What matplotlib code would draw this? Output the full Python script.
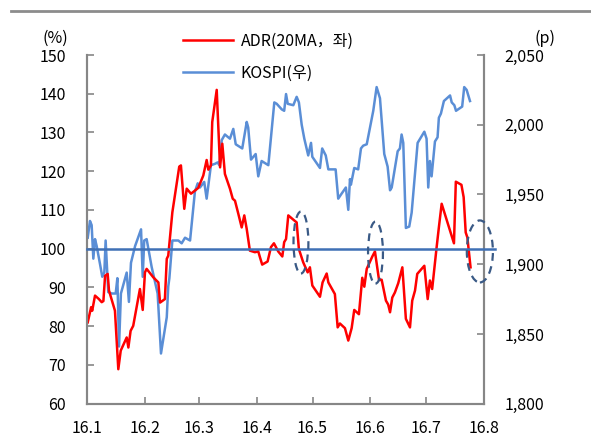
import matplotlib
matplotlib.use("Agg")
import matplotlib.pyplot as plt
import matplotlib.dates as mdates
import matplotlib.ticker as mticker
from matplotlib.patches import Ellipse
from matplotlib.lines import Line2D
import pandas as pd

plt.rcParams["font.family"] = ["Noto Sans CJK KR", "DejaVu Sans"]

# ADR 20MA (%, left axis), x = days since 2016-01-01
adr_days = [0.4, 2.2, 2.8, 4.3, 6.4, 7.9, 8.8, 9.7, 11.1, 11.8,
            15.0, 16.8, 18.1, 21.3, 22.2, 23.4, 24.8, 28.4, 29.9, 31.1,
            32.0, 35.6, 38.3, 39.2, 41.8, 42.8, 43.6, 45.8, 49.5, 50.4,
            52.2, 53.5, 55.8, 57.9, 59.7, 62.4, 64.2, 65.1, 66.5, 67.2,
            69.6, 71.4, 72.6, 74.0, 76.7, 78.2, 79.4, 81.2, 83.0, 84.4,
            85.7, 87.4, 90.1, 91.9, 92.8, 94.0, 96.9, 98.7, 100.3, 102.6,
            104.8, 105.8, 106.8, 108.0, 111.2, 112.5, 113.7, 116.0, 118.4, 119.6,
            120.9, 125.0, 126.4, 128.6, 129.5, 133.0, 134.5, 135.7, 138.4, 140.2,
            142.0, 143.4, 145.9, 147.7, 148.8, 150.1, 153.1, 154.5, 156.7, 158.1,
            160.4, 161.6, 162.6, 163.8, 165.2, 167.0, 169.2, 169.7, 171.1, 173.3,
            174.5, 176.0, 177.2, 181.0, 182.8, 184.0, 185.2, 187.6, 188.8, 190.3,
            196.9, 197.9, 200.9, 202.1, 203.2, 204.1, 205.8]
adr_values = [81.0, 84.9, 84.0, 87.9, 87.0, 86.2, 86.5, 93.0, 93.5, 89.2,
              84.0, 68.9, 73.7, 77.1, 74.5, 78.8, 80.1, 89.6, 84.2, 93.9,
              94.8, 92.6, 91.3, 86.1, 87.0, 97.4, 98.2, 109.4, 121.2, 121.5,
              110.3, 115.5, 114.2, 115.0, 115.7, 118.9, 122.9, 120.4, 121.5, 132.7,
              141.0, 121.0, 127.1, 119.3, 115.5, 112.9, 112.4, 109.0, 105.5, 108.6,
              105.1, 99.5, 99.1, 99.3, 97.8, 95.9, 96.7, 100.4, 101.4, 99.3,
              98.0, 101.7, 102.5, 108.6, 107.3, 106.8, 99.9, 96.5, 93.9, 95.2,
              90.5, 87.6, 91.3, 93.6, 91.3, 88.3, 79.7, 80.7, 79.5, 76.3,
              79.5, 84.2, 83.1, 92.5, 90.2, 94.8, 98.0, 99.3, 91.9, 92.0,
              86.6, 85.6, 83.6, 87.4, 88.7, 91.1, 95.2, 91.8, 81.9, 79.7,
              86.6, 89.2, 93.5, 95.6, 87.0, 91.8, 89.6, 100.4, 105.5, 111.6,
              101.4, 117.3, 116.5, 113.3, 104.2, 102.9, 95.2]

# KOSPI (p, right axis)
kospi_days = [0.4, 1.6, 2.5, 3.4, 4.3, 5.2, 7.0, 8.2, 9.3, 10.0,
              11.4, 13.3, 15.4, 16.3, 17.2, 18.2, 21.3, 22.5, 23.6, 25.8,
              29.0, 29.9, 30.7, 32.0, 34.7, 37.9, 39.7, 42.8, 43.6, 44.2,
              45.8, 49.0, 50.8, 52.6, 55.3, 57.9, 59.4, 60.6, 62.9, 64.2,
              66.5, 68.7, 70.1, 71.0, 72.3, 74.0, 76.7, 78.5, 79.8, 83.3,
              85.7, 86.5, 88.0, 90.5, 91.9, 93.7, 97.3, 100.5, 101.8, 104.5,
              105.8, 106.8, 107.7, 110.7, 112.5, 113.7, 115.2, 116.6, 118.7, 120.2,
              120.9, 125.0, 126.2, 128.1, 129.5, 133.4, 134.8, 136.3, 138.9, 140.2,
              141.1, 141.6, 143.4, 145.5, 147.0, 148.2, 150.1, 153.6, 155.4, 157.2,
              159.5, 161.3, 162.6, 163.5, 166.7, 167.9, 168.8, 169.7, 171.1, 172.9,
              174.2, 177.4, 181.0, 182.2, 183.1, 184.0, 184.9, 186.7, 188.1, 188.8,
              189.9, 191.5, 194.8, 195.7, 197.1, 198.0, 201.3, 202.4, 203.7, 205.5]
kospi_values = [1919, 1931, 1928, 1904, 1918, 1913, 1900, 1891, 1894, 1917,
                1880, 1879, 1879, 1890, 1841, 1879, 1894, 1873, 1901, 1913,
                1925, 1891, 1917, 1918, 1898, 1879, 1836, 1862, 1884, 1890,
                1917, 1917, 1915, 1919, 1917, 1952, 1958, 1955, 1959, 1947,
                1971, 1972, 1973, 1971, 1989, 1993, 1990, 1997, 1986, 1983,
                2002, 1998, 1975, 1979, 1963, 1974, 1971, 2016, 2015, 2011,
                2010, 2022, 2015, 2014, 2020, 2016, 2000, 1990, 1978, 1987,
                1977, 1969, 1983, 1978, 1968, 1968, 1947, 1950, 1955, 1939,
                1961, 1957, 1969, 1968, 1983, 1985, 1986, 2010, 2027, 2019,
                1979, 1970, 1953, 1955, 1981, 1983, 1993, 1987, 1926, 1927,
                1937, 1987, 1995, 1990, 1955, 1974, 1963, 1988, 1991, 2005,
                2008, 2017, 2021, 2016, 2014, 2010, 2013, 2027, 2025, 2017]

month_starts = ["2016-01-01", "2016-02-01", "2016-03-01", "2016-04-01",
                "2016-05-01", "2016-06-01", "2016-07-01", "2016-08-01"]
month_labels = ["16.1", "16.2", "16.3", "16.4", "16.5", "16.6", "16.7", "16.8"]

# dashed circles: centre day, centre %, width in days
mark_days = [114.8, 154.8, 210.8]
mark_values = [101.6, 99.0, 99.3]
mark_widths = [8, 8, 14]

base = pd.Timestamp("2016-01-01")
adr_dates = base + pd.to_timedelta(adr_days, unit="D")
kospi_dates = base + pd.to_timedelta(kospi_days, unit="D")

gray = "#868686"
fig = plt.figure(figsize=(5.91, 4.40), dpi=100)
ax = fig.add_axes([0.1472, 0.0825, 0.6717, 0.7925])
ax2 = ax.twinx()
ax.set_zorder(ax2.get_zorder() + 1)
ax.patch.set_visible(False)

l2, = ax2.plot(kospi_dates, kospi_values, color="#5A8ED6", lw=1.8, label="KOSPI(우)")
l1, = ax.plot(adr_dates, adr_values, color="#FF0000", lw=1.8, label="ADR(20MA，좌)")
ax.axhline(100, xmin=0, xmax=1.028, color="#3F70B5", lw=1.8, clip_on=False, zorder=5)

for d, v, w in zip(mark_days, mark_values, mark_widths):
    c = mdates.date2num(base + pd.Timedelta(days=d))
    ax.add_patch(Ellipse((c, v), w, 16, fill=False, ec="#3A5A86", lw=1.6,
                         ls=(0, (3.5, 2.5)), clip_on=False, zorder=6))

ax.set_xlim(pd.Timestamp("2016-01-01"), pd.Timestamp("2016-08-01"))
ax.set_ylim(60, 150)
ax2.set_ylim(1800, 2050)
ax.set_xticks(pd.to_datetime(month_starts))
ax.set_xticklabels(month_labels)
ax.set_yticks(range(60, 151, 10))
ax2.set_yticks(range(1800, 2051, 50))
ax2.yaxis.set_major_formatter(mticker.FuncFormatter(lambda v, p: f"{v:,.0f}"))

for a in (ax, ax2):
    a.spines["top"].set_visible(False)
    for s in ("left", "right", "bottom"):
        a.spines[s].set_color(gray)
        a.spines[s].set_linewidth(1.5)
    a.tick_params(direction="in", length=5, width=1.2, color=gray, labelsize=11.5)
ax.tick_params(axis="y", pad=15)
ax.tick_params(axis="x", pad=12)
ax2.tick_params(axis="y", pad=15)

fig.legend(handles=[l1, l2], loc="upper left", bbox_to_anchor=(0.31, 0.925),
           frameon=False, fontsize=11.5, handlelength=3.1, handletextpad=0.5,
           labelspacing=0.9, borderpad=0, borderaxespad=0)

fig.text(0.115, 0.912, "(%)", ha="right", va="center", fontsize=11.5)
fig.text(0.94, 0.912, "(p)", ha="right", va="center", fontsize=11.5)
fig.add_artist(Line2D([0.019, 1.0], [0.975, 0.975], color="#8C8C8C", lw=2.0))

fig.savefig("out.png", dpi=100)
